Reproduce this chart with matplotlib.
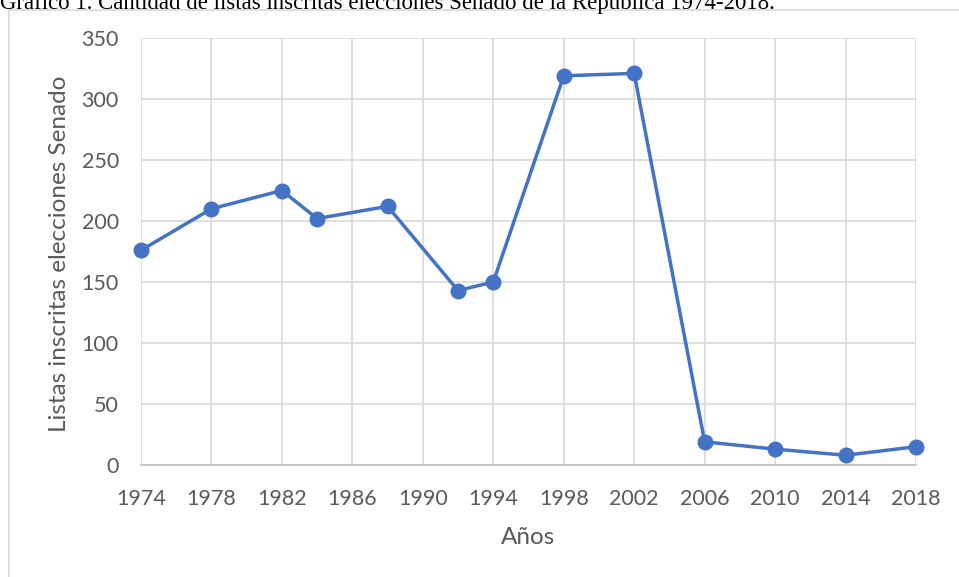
import matplotlib.pyplot as plt
from matplotlib.patches import Rectangle

# Datos
anios = [1974, 1978, 1982, 1984, 1988, 1992, 1994, 1998, 2002, 2006, 2010, 2014, 2018]
listas = [176, 210, 225, 202, 212, 143, 150, 319, 321, 19, 13, 8, 15]
ticks_x = [1974, 1978, 1982, 1986, 1990, 1994, 1998, 2002, 2006, 2010, 2014, 2018]
ticks_y = [0, 50, 100, 150, 200, 250, 300, 350]

plt.rcParams['font.family'] = ['Lato', 'DejaVu Sans']

fig = plt.figure(figsize=(9.59, 5.77), dpi=100)

# Marco del gráfico
fig.patches.append(Rectangle((9 / 959, -0.1), 1.1, 1 - 10 / 577 + 0.1, transform=fig.transFigure,
                             fill=False, edgecolor='#D9D9D9', linewidth=1.2))

# Título (cortado arriba, como en la imagen original)
fig.text(0.0, 1 - 9 / 577, 'Gráfico 1. Cantidad de listas inscritas elecciones Senado de la República 1974-2018.',
         family='Liberation Serif', fontsize=16.5, va='baseline', ha='left', color='black')

ax = fig.add_axes([141 / 959, 1 - 465 / 577, (916 - 141) / 959, (465 - 38) / 577])
ax.plot(anios, listas, color='#4472C4', linewidth=2.5, marker='o', markersize=10.5, zorder=3, clip_on=False)

ax.set_xlim(1974, 2018)
ax.set_ylim(0, 350)
ax.set_xticks(ticks_x)
ax.set_yticks(ticks_y)
ax.grid(True, color='#D9D9D9', linewidth=1.2)
ax.tick_params(length=0, labelsize=15.5, colors='#595959')
ax.tick_params(axis='y', pad=16)
ax.tick_params(axis='x', pad=17)
for s in ['top', 'right', 'left']:
    ax.spines[s].set_visible(False)
ax.spines['bottom'].set_color('#BFBFBF')
ax.spines['bottom'].set_linewidth(1.2)

fig.text(528 / 959, 1 - 537 / 577, 'Años', fontsize=17.5, color='#595959', ha='center', va='center')
fig.text(60 / 959, 1 - 254 / 577, 'Listas inscritas elecciones Senado', fontsize=17.5, color='#595959',
         rotation=90, ha='center', va='center')

fig.savefig('out.png', dpi=100)
